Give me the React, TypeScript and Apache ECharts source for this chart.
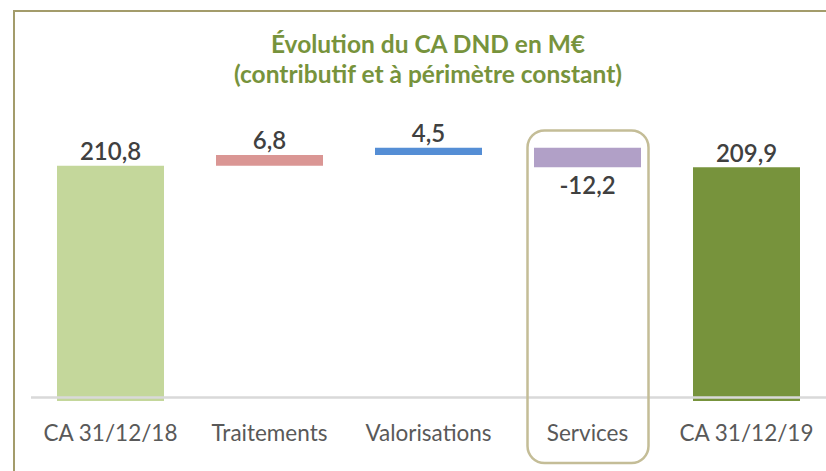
import React, { useEffect, useRef } from 'react';
import * as echarts from 'echarts';

const categories = ['CA 31/12/18', 'Traitements', 'Valorisations', 'Services', 'CA 31/12/19'];
const startValue = 210.8;
const deltas = [6.8, 4.5, -12.2];
const endValue = 209.9;
const barColors = ['#C4D79B', '#DA9694', '#558ED5', '#B1A0C7', '#77933C'];
const titleLines = ['Évolution du CA DND en M€', '(contributif et à périmètre constant)'];

export default function App() {
  const ref = useRef<HTMLDivElement>(null);
  useEffect(() => {
    document.body.style.margin = '0';
    const chart = echarts.init(ref.current!, null, { renderer: 'svg' });

    const baseVals: number[] = [0];
    const sizes: number[] = [startValue];
    let running = startValue;
    deltas.forEach((d) => {
      baseVals.push(Math.min(running, running + d));
      sizes.push(Math.abs(d));
      running += d;
    });
    baseVals.push(0);
    sizes.push(endValue);
    const signed = [startValue, ...deltas, endValue];
    const fmt = (v: number) => v.toFixed(1).replace('.', ',');

    const font = 'Lato';

    chart.setOption({
      animation: false,
      title: {
        text: titleLines.join('\n'),
        left: 428,
        top: 28,
        textAlign: 'center',
        padding: 0,
        textStyle: {
          fontFamily: font,
          fontSize: 24.5,
          fontWeight: 'bold',
          color: '#77933C',
          lineHeight: 30,
        },
      },
      grid: { left: 31, right: 0, top: 103, bottom: 70, containLabel: false },
      xAxis: {
        type: 'category',
        data: categories,
        axisLine: { show: false },
        axisTick: { show: false },
        axisLabel: {
          fontFamily: font,
          fontSize: 22.5,
          color: '#595959',
          margin: 19,
          lineHeight: 24,
          interval: 0,
        },
      },
      yAxis: {
        type: 'value',
        min: 64,
        max: 250,
        show: false,
        splitLine: { show: false },
      },
      series: [
        {
          type: 'bar',
          stack: 'wf',
          silent: true,
          barWidth: 107,
          itemStyle: { color: 'transparent' },
          data: baseVals,
          clip: true,
        },
        {
          type: 'bar',
          stack: 'wf',
          silent: true,
          barWidth: 107,
          clip: true,
          data: sizes.map((v, i) => ({
            value: v,
            itemStyle: { color: barColors[i] },
            label: signed[i] < 0 ? { position: 'bottom', distance: 5 } : { position: 'top', distance: 3 },
          })),
          label: {
            show: true,
            fontFamily: font,
            fontSize: 24,
            fontWeight: 600,
            color: '#404040',
            formatter: (p: any) => fmt(signed[p.dataIndex]),
          },
          markLine: {
            silent: true,
            symbol: ['none', 'none'],
            label: { show: false },
            lineStyle: { color: '#D9D9D9', width: 2.5, type: 'solid' },
            data: [{ yAxis: 66.5 }],
          },
        },
      ],
      graphic: [
        {
          type: 'rect',
          shape: { x: 14, y: 11, width: 900, height: 600 },
          style: { fill: 'none', stroke: '#A39C6B', lineWidth: 2 },
          silent: true,
        },
        {
          type: 'rect',
          shape: { x: 527.5, y: 130.5, width: 121, height: 332.5, r: 17 },
          style: { fill: 'none', stroke: '#C4BD97', lineWidth: 2.5 },
          silent: true,
          z: 10,
        },
      ],
    });
    return () => chart.dispose();
  }, []);
  return <div ref={ref} style={{ width: 826, height: 471 }} />;
}
